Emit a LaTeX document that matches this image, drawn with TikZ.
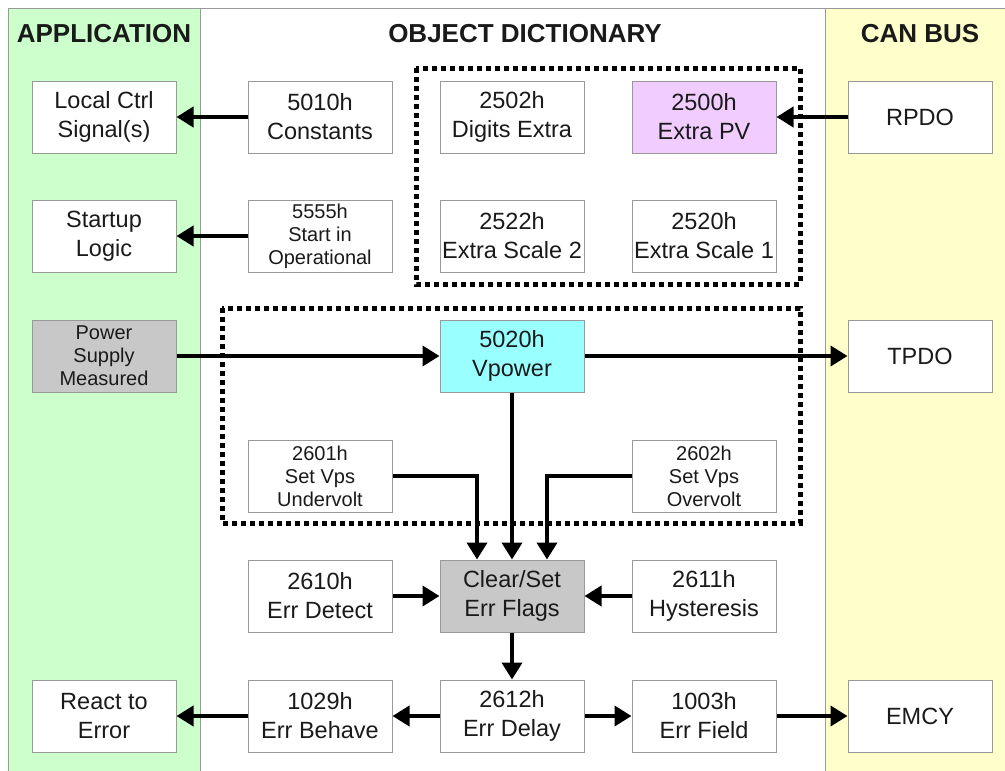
\documentclass[tikz,border=0pt]{standalone}
\usepackage{fontspec}
\setmainfont{Liberation Sans}
\usetikzlibrary{arrows.meta}
\definecolor{appgreen}{HTML}{CCFFCC}
\definecolor{canyellow}{HTML}{FFFFCC}
\definecolor{pvviolet}{HTML}{F0CCFF}
\definecolor{vcyan}{HTML}{99FFFF}
\definecolor{flaggray}{HTML}{C8C8C8}
\definecolor{edgegray}{HTML}{999999}
\definecolor{txt}{HTML}{1A1A1A}
\begin{document}
\begin{tikzpicture}[x=1pt,y=-1pt,
  box/.style={draw=edgegray,line width=1pt,fill=white,minimum width=144pt,minimum height=72pt,
    inner sep=0pt,align=center,text=txt,font=\fontsize{23.5}{29}\selectfont},
  smallbox/.style={box,font=\fontsize{20}{23}\selectfont},
  head/.style={font=\bfseries\fontsize{26}{30}\selectfont,text=txt},
  arr/.style={line width=4pt,-{Triangle[length=17pt,width=20pt]}},
  dots/.style={line width=5pt,dash pattern=on 5pt off 4pt}]
\useasboundingbox (0,0) rectangle (1005,771);
\fill[white] (0,0) rectangle (1005,771);
\fill[appgreen] (8,8) rectangle (200,771);
\fill[canyellow] (825,8) rectangle (1005,771);
\draw[edgegray,line width=1pt] (8,771) -- (8,8) -- (1005,8);
\draw[edgegray,line width=1pt] (200,8) -- (200,771);
\draw[edgegray,line width=1pt] (825,8) -- (825,771);
\node[head] (happ) at (104,34) {APPLICATION};
\node[head] (hod) at (525,34) {OBJECT DICTIONARY};
\node[head] (hcan) at (920,34) {CAN BUS};
% dotted groups
\draw[dots] (416,68) rectangle (800,284);
\draw[dots] (222,308) rectangle (800,523);
% row 1
\node[box] (local) at (104,117) {Local Ctrl\\Signal(s)};
\node[box] (b5010) at (320,117) {5010h\\Constants};
\node[box] (b2502) at (512,117) {2502h\\Digits Extra};
\node[box,fill=pvviolet] (b2500) at (704,117) {2500h\\Extra PV};
\node[box] (rpdo) at (920,117) {RPDO};
% row 2
\node[box] (startup) at (104,236) {Startup\\Logic};
\node[smallbox] (b5555) at (320,236) {5555h\\Start in\\Operational};
\node[box] (b2522) at (512,236) {2522h\\Extra Scale 2};
\node[box] (b2520) at (704,236) {2520h\\Extra Scale 1};
% row 3
\node[smallbox,fill=flaggray] (power) at (104,356) {Power\\Supply\\Measured};
\node[box,fill=vcyan] (b5020) at (512,356) {5020h\\Vpower};
\node[box] (tpdo) at (920,356) {TPDO};
% row 4
\node[smallbox] (b2601) at (320,476) {2601h\\Set Vps\\Undervolt};
\node[smallbox] (b2602) at (704,476) {2602h\\Set Vps\\Overvolt};
% row 5
\node[box] (b2610) at (320,596) {2610h\\Err Detect};
\node[box,fill=flaggray] (flags) at (512,596) {Clear/Set\\Err Flags};
\node[box] (b2611) at (704,596) {2611h\\Hysteresis};
% row 6
\node[box] (react) at (104,716) {React to\\Error};
\node[box] (b1029) at (320,716) {1029h\\Err Behave};
\node[box] (b2612) at (512,716) {2612h\\Err Delay};
\node[box] (b1003) at (704,716) {1003h\\Err Field};
\node[box] (emcy) at (920,716) {EMCY};
% connectors
\draw[arr] (b5010) -- (local);
\draw[arr] (b5555) -- (startup);
\draw[arr] (rpdo) -- (b2500);
\draw[arr] (power) -- (b5020);
\draw[arr] (b5020) -- (tpdo);
\draw[arr] (b5020) -- (flags);
\draw[arr] (b2601.east) -| ([xshift=-35pt]flags.north);
\draw[arr] (b2602.west) -| ([xshift=35pt]flags.north);
\draw[arr] (b2610) -- (flags);
\draw[arr] (b2611) -- (flags);
\draw[arr] (flags) -- (b2612);
\draw[arr] (b2612) -- (b1029);
\draw[arr] (b1029) -- (react);
\draw[arr] (b2612) -- (b1003);
\draw[arr] (b1003) -- (emcy);
\end{tikzpicture}
\end{document}
